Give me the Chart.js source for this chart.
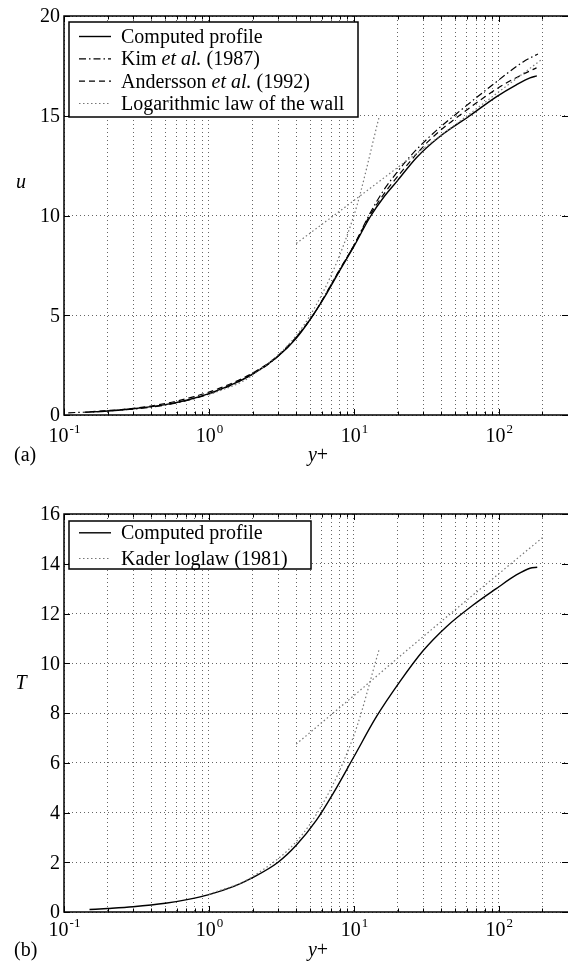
<!DOCTYPE html>
<html lang="en">
<head>
  <meta charset="UTF-8">
  <title>Velocity and temperature profiles</title>
  <script src="https://cdn.jsdelivr.net/npm/chart.js"></script>
  <style>
    body {
      margin: 0;
      background: #fff;
    }
    .panel {
      position: absolute;
      left: 0;
      width: 568px;
    }
    #panelA { top: 0; height: 480px; }
    #panelB { top: 480px; height: 485px; }
  </style>
</head>
<body>
  <div class="panel" id="panelA"><canvas id="chartA"></canvas></div>
  <div class="panel" id="panelB"><canvas id="chartB"></canvas></div>

  <script>
// x axis ticks (log scale), decades get a label
const xTicks = [0.1, 0.2, 0.3, 0.4, 0.5, 0.6, 0.7, 0.8, 0.9, 1, 2, 3, 4, 5, 6, 7, 8, 9,
                10, 20, 30, 40, 50, 60, 70, 80, 90, 100, 200, 300];
const xDecades = [0.1, 1, 10, 100];
const xExponents = ['-1', '0', '1', '2'];
const yTicksA = [0, 5, 10, 15, 20];
const yTicksB = [0, 2, 4, 6, 8, 10, 12, 14, 16];

// (a) velocity profile
const yPlusComp = [0.14, 0.2, 0.3, 0.5, 0.7, 1, 1.5, 2, 3, 4, 5, 6.5, 8, 10, 13, 16, 20, 27, 39, 63, 96, 132, 164, 183];
const uComp = [0.14, 0.2, 0.31, 0.52, 0.74, 1.07, 1.58, 2.05, 2.95, 3.85, 4.8, 6.1, 7.25, 8.45, 9.95, 10.9, 11.75, 12.9, 13.95, 15.0, 15.95, 16.55, 16.9, 17.0];
const yPlusKim = [0.107, 0.2, 0.5, 1, 2, 3, 5, 8, 10, 13, 16, 20, 24, 35, 51, 87, 147, 186];
const uKim = [0.11, 0.2, 0.5, 1.05, 2.05, 2.95, 4.8, 7.3, 8.5, 10.15, 11.25, 12.2, 12.9, 14.1, 15.1, 16.45, 17.7, 18.1];
const yPlusAnd = [0.15, 0.3, 0.5, 0.7, 1, 1.5, 2, 3, 5, 8, 10, 13, 16, 20, 33, 63, 107, 164, 182];
const uAnd = [0.16, 0.33, 0.58, 0.82, 1.15, 1.65, 2.1, 2.98, 4.8, 7.3, 8.5, 10.05, 11.05, 11.95, 13.75, 15.4, 16.55, 17.25, 17.4];
const yPlusLin = [1, 2, 5, 10, 15];
const uLin = [1, 2, 5, 10, 15];
const yPlusLog = [4, 10, 20, 50, 100, 200];
const uLog = [8.6, 10.75, 12.4, 14.55, 16.2, 17.85];

// (b) temperature profile
const yPlusT = [0.15, 0.2, 0.3, 0.5, 0.72, 1, 1.5, 2, 3, 4, 5.5, 7.2, 10, 14.3, 20.7, 30, 43.5, 66.5, 96, 132, 164, 184];
const tComp = [0.1, 0.14, 0.21, 0.35, 0.51, 0.7, 1.04, 1.38, 2.0, 2.68, 3.68, 4.77, 6.24, 7.85, 9.25, 10.5, 11.47, 12.34, 13.0, 13.55, 13.82, 13.86];
const yPlusTLin = [1, 2, 5, 10, 15];
const tLin = [0.71, 1.42, 3.55, 7.1, 10.6];
const yPlusKader = [4, 10, 20, 50, 100, 200];
const tKader = [6.75, 8.7, 10.2, 12.15, 13.6, 15.05];

const FONT = "'Liberation Serif', 'Times New Roman', serif";
const pts = (xs, ys) => xs.map((v, i) => ({ x: v, y: ys[i] }));

const styles = {
  solid: { borderColor: '#000', borderWidth: 1.4, borderDash: [] },
  dashdot: { borderColor: '#000', borderWidth: 1.2, borderDash: [7, 3, 1.5, 3] },
  dashed: { borderColor: '#000', borderWidth: 1.2, borderDash: [6, 4] },
  dotted: { borderColor: '#777', borderWidth: 1.2, borderDash: [1.5, 2.5] }
};

const line = (data, style) => ({
  data: data,
  fill: false,
  pointRadius: 0,
  cubicInterpolationMode: 'monotone',
  ...styles[style]
});

// frame, ticks, labels and legend drawn on top
const decor = {
  id: 'decor',
  afterDraw(chart, args, o) {
    const { ctx, chartArea: a, scales: { x, y } } = chart;
    ctx.save();
    // ticks pointing inward
    ctx.strokeStyle = '#000';
    ctx.lineWidth = 1;
    ctx.setLineDash([]);
    ctx.beginPath();
    xTicks.forEach(v => {
      const px = Math.round(x.getPixelForValue(v)) + 0.5;
      const len = xDecades.includes(v) ? 6 : 3.5;
      ctx.moveTo(px, a.bottom); ctx.lineTo(px, a.bottom - len);
      ctx.moveTo(px, a.top); ctx.lineTo(px, a.top + len);
    });
    o.yTicks.forEach(v => {
      const py = Math.round(y.getPixelForValue(v)) + 0.5;
      ctx.moveTo(a.left, py); ctx.lineTo(a.left + 6, py);
      ctx.moveTo(a.right, py); ctx.lineTo(a.right - 6, py);
    });
    ctx.stroke();
    // frame
    ctx.lineWidth = 1.5;
    ctx.beginPath();
    ctx.moveTo(a.right + 2, a.top); ctx.lineTo(a.left, a.top);
    ctx.lineTo(a.left, a.bottom); ctx.lineTo(a.right + 2, a.bottom);
    ctx.stroke();

    ctx.fillStyle = '#000';
    // y tick labels
    ctx.font = '20px ' + FONT;
    ctx.textAlign = 'right';
    ctx.textBaseline = 'middle';
    o.yTicks.forEach(v => ctx.fillText(String(v), a.left - 4, y.getPixelForValue(v) + 1));
    // x tick labels 10^n
    ctx.textAlign = 'left';
    ctx.textBaseline = 'alphabetic';
    xDecades.forEach((v, i) => {
      const px = x.getPixelForValue(v);
      ctx.font = '20px ' + FONT;
      const w1 = ctx.measureText('10').width;
      ctx.font = '13px ' + FONT;
      const w2 = ctx.measureText(xExponents[i]).width;
      const left = px - (w1 + w2) / 2;
      ctx.font = '20px ' + FONT;
      ctx.fillText('10', left, a.bottom + o.tickBase);
      ctx.font = '13px ' + FONT;
      ctx.fillText(xExponents[i], left + w1 + 1, a.bottom + o.tickBase - 9);
    });
    // axis titles
    ctx.font = 'italic 20px ' + FONT;
    const wy = ctx.measureText('y').width;
    ctx.font = '20px ' + FONT;
    const wp = ctx.measureText('+').width;
    const cx = (a.left + a.right) / 2 - (wy + wp) / 2 + 2;
    ctx.font = 'italic 20px ' + FONT;
    ctx.fillText('y', cx, a.bottom + o.titleBase);
    ctx.font = '20px ' + FONT;
    ctx.fillText('+', cx + wy, a.bottom + o.titleBase);
    ctx.fillText(o.panel, 14, a.bottom + o.titleBase);
    ctx.font = 'italic 20px ' + FONT;
    ctx.textAlign = 'center';
    ctx.fillText(o.yTitle, 21, o.yTitleBase);

    // legend
    const L = o.legend;
    ctx.fillStyle = '#fff';
    ctx.fillRect(L.x0, L.y0, L.x1 - L.x0, L.y1 - L.y0);
    ctx.strokeStyle = '#000';
    ctx.lineWidth = 1.5;
    ctx.strokeRect(L.x0, L.y0, L.x1 - L.x0, L.y1 - L.y0);
    ctx.textAlign = 'left';
    L.rows.forEach((r, i) => {
      const base = L.bases[i];
      const st = styles[r.style];
      ctx.strokeStyle = st.borderColor;
      ctx.lineWidth = st.borderWidth;
      ctx.setLineDash(st.borderDash);
      ctx.beginPath();
      ctx.moveTo(79, base - 6.5); ctx.lineTo(111, base - 6.5);
      ctx.stroke();
      ctx.setLineDash([]);
      ctx.fillStyle = '#000';
      let tx = 121;
      r.text.forEach(([s, it]) => {
        ctx.font = (it ? 'italic ' : '') + '20px ' + FONT;
        ctx.fillText(s, tx, base);
        tx += ctx.measureText(s).width;
      });
    });
    ctx.restore();
  }
};

const makeOptions = (yMax, yTicks, padding, decorOpts) => ({
  responsive: true,
  maintainAspectRatio: false,
  animation: false,
  layout: { padding: padding },
  scales: {
    x: {
      type: 'logarithmic',
      min: 0.1,
      max: 300,
      afterBuildTicks: s => { s.ticks = xTicks.map(v => ({ value: v })); },
      ticks: { display: false },
      grid: { color: 'rgba(0,0,0,0.6)', lineWidth: 1, drawTicks: false },
      border: { display: false, dash: [1, 3] }
    },
    y: {
      type: 'linear',
      min: 0,
      max: yMax,
      afterBuildTicks: s => { s.ticks = yTicks.map(v => ({ value: v })); },
      ticks: { display: false },
      grid: { color: 'rgba(0,0,0,0.6)', lineWidth: 1, drawTicks: false },
      border: { display: false, dash: [1, 3] }
    }
  },
  plugins: {
    legend: { display: false },
    tooltip: { enabled: false },
    decor: decorOpts
  }
});

new Chart(document.getElementById('chartA'), {
  type: 'line',
  data: {
    datasets: [
      line(pts(yPlusLin, uLin), 'dotted'),
      line(pts(yPlusLog, uLog), 'dotted'),
      line(pts(yPlusAnd, uAnd), 'dashed'),
      line(pts(yPlusKim, uKim), 'dashdot'),
      line(pts(yPlusComp, uComp), 'solid')
    ]
  },
  options: makeOptions(20, yTicksA, { left: 64, top: 16, right: 0, bottom: 65 }, {
    yTicks: yTicksA,
    tickBase: 27,
    titleBase: 46,
    panel: '(a)',
    yTitle: 'u',
    yTitleBase: 188,
    legend: {
      x0: 69, y0: 22, x1: 358, y1: 117,
      bases: [43, 65.3, 87.7, 110],
      rows: [
        { style: 'solid', text: [['Computed profile', false]] },
        { style: 'dashdot', text: [['Kim ', false], ['et al.', true], [' (1987)', false]] },
        { style: 'dashed', text: [['Andersson ', false], ['et al.', true], [' (1992)', false]] },
        { style: 'dotted', text: [['Logarithmic law of the wall', false]] }
      ]
    }
  }),
  plugins: [decor]
});

new Chart(document.getElementById('chartB'), {
  type: 'line',
  data: {
    datasets: [
      line(pts(yPlusTLin, tLin), 'dotted'),
      line(pts(yPlusKader, tKader), 'dotted'),
      line(pts(yPlusT, tComp), 'solid')
    ]
  },
  options: makeOptions(16, yTicksB, { left: 64, top: 34, right: 0, bottom: 53 }, {
    yTicks: yTicksB,
    tickBase: 24,
    titleBase: 44,
    panel: '(b)',
    yTitle: 'T',
    yTitleBase: 209,
    legend: {
      x0: 69, y0: 41, x1: 311, y1: 89,
      bases: [59.3, 85],
      rows: [
        { style: 'solid', text: [['Computed profile', false]] },
        { style: 'dotted', text: [['Kader loglaw (1981)', false]] }
      ]
    }
  }),
  plugins: [decor]
});
  </script>
</body>
</html>
